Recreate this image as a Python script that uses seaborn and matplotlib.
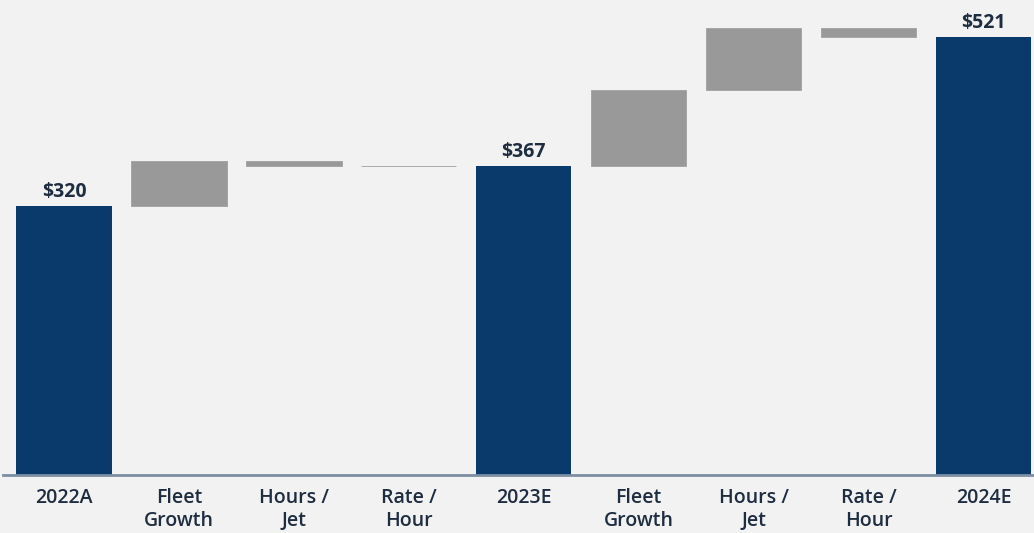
import matplotlib
matplotlib.use("Agg")
import matplotlib.pyplot as plt
import seaborn as sns
import numpy as np

categories = ["2022A", "Fleet\nGrowth", "Hours /\nJet", "Rate /\nHour", "2023E",
              "Fleet\nGrowth", "Hours /\nJet", "Rate /\nHour", "2024E"]
changes = [320, 53, -5, -1, None, 91, 74, -11, None]
is_total = [True, False, False, False, True, False, False, False, True]
total_labels = ["$320", "$367", "$521"]

# compute waterfall bottoms/heights
heights, bottoms = [], []
running = 0
for c, t in zip(changes, is_total):
    if t:
        if c is not None:
            running = c
        heights.append(running)
        bottoms.append(0)
    else:
        new = running + c
        bottoms.append(min(running, new))
        heights.append(abs(c))
        running = new

NAVY = "#0a3a6b"
GRAY = "#999999"
BG = "#f2f2f2"
TXT = "#1f2d40"

sns.set_theme(style="white")
plt.rcParams["font.family"] = ["Open Sans", "DejaVu Sans"]

fig = plt.figure(figsize=(10.34, 5.33), dpi=100, facecolor=BG)
ax = fig.add_axes([0.003, 0.1088, 0.997, 0.8912])
ax.set_facecolor(BG)

pos = list(range(len(categories)))
sns.barplot(x=pos, y=heights, bottom=bottoms, color=GRAY, saturation=1,
            errorbar=None, width=0.83, ax=ax, linewidth=0)

patches = sorted(ax.patches, key=lambda r: r.get_x())
for p, t in zip(patches, is_total):
    if t:
        p.set_facecolor(NAVY)
        p.set_edgecolor("none")
    else:
        p.set_facecolor(GRAY)
        p.set_edgecolor("#a0a0a0")
        p.set_linewidth(0.6)

ax.set_xlim(-0.53, 8.44)
ax.set_ylim(0, 565)

li = 0
for i, t in enumerate(is_total):
    if t:
        ax.text(i, heights[i] + 5, total_labels[li], ha="center", va="bottom",
                fontsize=14, fontweight="bold", color=TXT)
        li += 1

ax.set_xticks(pos)
ax.set_xticklabels(categories, fontsize=14, fontweight="semibold", color=TXT,
                   linespacing=1.2)
ax.tick_params(axis="x", length=0, pad=9)
ax.set_yticks([])
ax.set_xlabel("")
ax.set_ylabel("")
for s in ["top", "right", "left"]:
    ax.spines[s].set_visible(False)
ax.spines["bottom"].set_color("#7d8fa3")
ax.spines["bottom"].set_linewidth(2)

fig.savefig("out.png", dpi=100, facecolor=BG)
